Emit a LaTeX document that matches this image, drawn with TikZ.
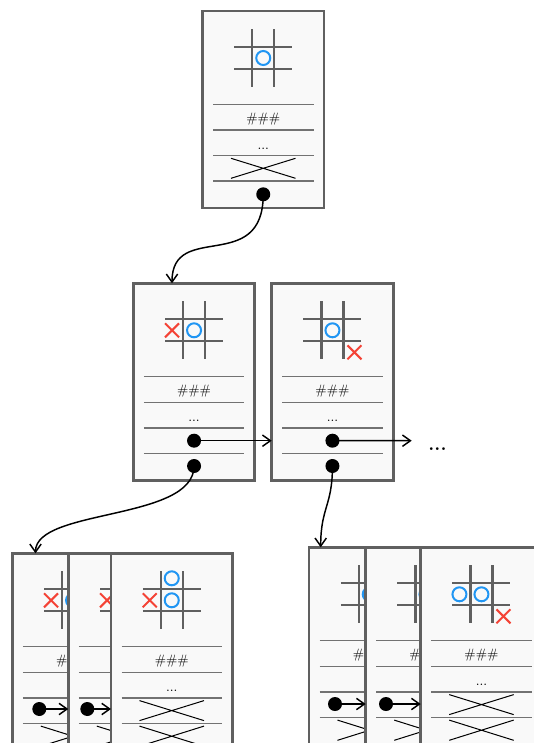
\documentclass[tikz,border=0pt]{standalone}
\usetikzlibrary{arrows.meta}
\definecolor{edgegray}{HTML}{606060}
\definecolor{sepgray}{HTML}{727272}
\definecolor{cardfill}{HTML}{F9F9F9}
\definecolor{oblue}{HTML}{2196F3}
\definecolor{xred}{HTML}{F44336}
\tikzset{
 cardsty/.style={draw=edgegray, line width=2.2pt, fill=cardfill, rectangle, inner sep=0pt, outer sep=0pt,
   minimum width=91.1pt, minimum height=147.75pt, anchor=north west},
 gridline/.style={draw=edgegray, line width=1.7pt},
 sepline/.style={draw=sepgray, line width=1.1pt},
 crossline/.style={draw=black, line width=0.75pt},
 omark/.style={draw=oblue, line width=1.5pt},
 xmark/.style={draw=xred, line width=1.5pt},
 dotnode/.style={circle, fill=black, inner sep=0pt, minimum size=10.5pt},
 conn/.style={draw=black, line width=1.1pt, -{Straight Barb[length=6pt,width=8.5pt]}},
 lbl/.style={inner sep=0pt, text=black, font=\fontsize{10.2}{12}\selectfont},
 more/.style={inner sep=0pt, text=black, font=\Large\bfseries},
}
\newcommand{\omk}[2]{\draw[omark] ({60.75+22*(#1)},{47+22*(#2)}) circle[radius=5.25pt];}
\newcommand{\xmk}[2]{\draw[xmark] ({60.75+22*(#1)},{47+22*(#2)}) ++(-7,-7) -- ++(14,14) ++(0,-14) -- ++(-14,14);}
\newcommand{\crossA}{\draw[crossline] (28.5,147.3) -- (93,167.3) (28.5,167.3) -- (93,147.3);}
\newcommand{\crossB}{\draw[crossline] (28.5,172.8) -- (93,193) (28.5,193) -- (93,172.8);}
\newcommand{\mkcard}[4]{%
 \node[cardsty] (#1) at (#2,#3) {};
 \begin{scope}[shift={(#2,#3)}]
  \draw[gridline] (49.75,18) -- (49.75,76) (71.75,18) -- (71.75,76)
                  (31.75,36) -- (89.75,36) (31.75,58) -- (89.75,58);
  \draw[sepline] (10.5,93.3) -- (111,93.3) (10.5,119) -- (111,119)
                 (10.5,144.5) -- (111,144.5) (10.5,170) -- (111,170);
  \node[lbl, anchor=base] (#1-h) at (60.75,111.4) {\#\#\#};
  \node[lbl, anchor=base] (#1-d) at (60.75,138.5) {...};
  #4
 \end{scope}}
\begin{document}
\begin{tikzpicture}[x=0.75pt, y=-0.75pt]
\useasboundingbox (0,0) rectangle (534,743);
% top
\mkcard{t}{202.5}{11}{\omk{0}{0}\crossA\node[dotnode] (t-q) at (60.75,183.3) {};}
% second row
\mkcard{a}{133.3}{283.3}{\xmk{-1}{0}\omk{0}{0}
  \node[dotnode] (a-p) at (60.75,157.4) {};
  \node[dotnode] (a-q) at (60.75,182.7) {};}
\mkcard{b}{271.7}{283.3}{\omk{0}{0}\xmk{1}{1}
  \node[dotnode] (b-p) at (60.75,157.4) {};
  \node[dotnode] (b-q) at (60.75,182.7) {};}
% third row, left group
\mkcard{l1}{12.3}{553.3}{\xmk{-1}{0}\omk{0}{0}\crossB
  \node[dotnode] (l1-p) at (27,155.7) {};}
\mkcard{l2}{68.3}{553.3}{\xmk{-1}{0}\omk{0}{0}\crossB
  \node[dotnode] (l2-p) at (19,155.7) {};}
\mkcard{l3}{111}{553.3}{\xmk{-1}{0}\omk{0}{0}\omk{0}{-1}\crossA\crossB}
% third row, right group
\mkcard{r1}{309}{547.3}{\omk{0}{0}\xmk{1}{1}\crossB
  \node[dotnode] (r1-p) at (26,156.7) {};}
\mkcard{r2}{365.7}{547.3}{\omk{0}{0}\xmk{1}{1}\crossB
  \node[dotnode] (r2-p) at (20.3,156.7) {};}
\mkcard{r3}{420.7}{547.3}{\omk{-1}{0}\omk{0}{0}\xmk{1}{1}\crossA\crossB}
% connectors
\coordinate (a-in) at (172,283.3);
\coordinate (l1-in) at (35.5,553.3);
\coordinate (r1-in) at (320.7,547.3);
\coordinate (b-out) at (411.7,440.7);
\draw[conn] (t-q.center) .. controls +(0,81) and +(0,-63) .. (a-in);
\draw[conn] (a-q.center) .. controls +(0,55) and +(0,-45) .. (l1-in);
\draw[conn] (b-q.center) .. controls +(0,40) and +(0,-40) .. (r1-in);
\draw[conn] (a-p.center) -- (a-p.center -| b.west);
\draw[conn] (b-p.center) -- (b-out);
\node[more, anchor=base] (etc) at (437.5,450) {...};
\draw[conn] (l1-p.center) -- (l1-p.center -| l2.west);
\draw[conn] (l2-p.center) -- (l2-p.center -| l3.west);
\draw[conn] (r1-p.center) -- (r1-p.center -| r2.west);
\draw[conn] (r2-p.center) -- (r2-p.center -| r3.west);
\end{tikzpicture}
\end{document}
